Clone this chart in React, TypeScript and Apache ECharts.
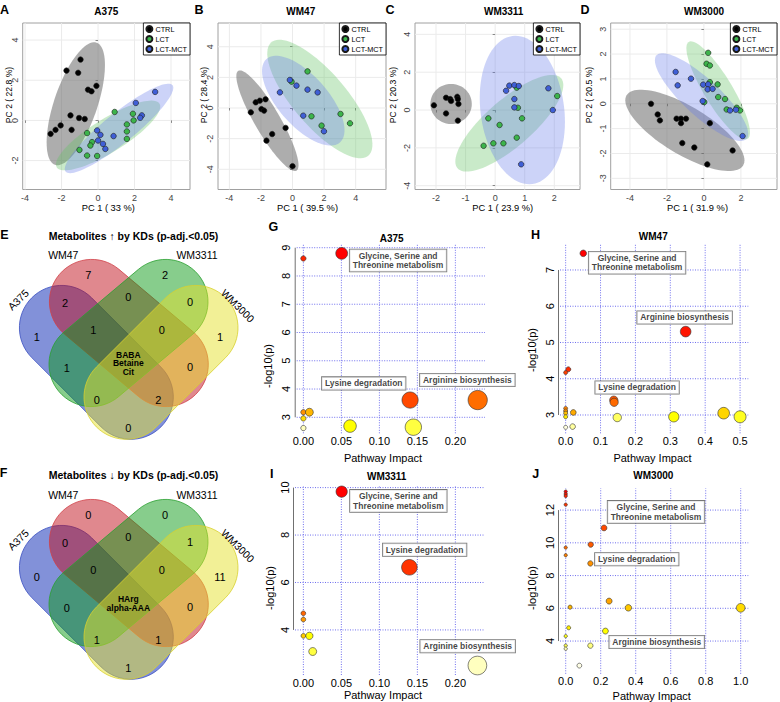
import React, { useEffect, useRef } from "react";
import * as echarts from "echarts";

const FONT = "'Liberation Sans', Arial, Helvetica, sans-serif";

// ---------------- PCA score plots (A–D) ----------------
const pcaTitles = ["A375", "WM47", "WM3311", "WM3000"];
const pcaGroups = ["CTRL", "LCT", "LCT-MCT"];
const pcaXNames = ["PC 1 ( 33 %)", "PC 1 ( 39.5 %)", "PC 1 ( 23.9 %)", "PC 1 ( 31.9 %)"];
const pcaYNames = ["PC 2 ( 22.8 %)", "PC 2 ( 28.4 %)", "PC 2 ( 20.3 %)", "PC 2 ( 20.5 %)"];

const a375Ctrl = [[-0.96, 3.03], [-1.73, 2.48], [-1.09, 2.37], [-0.55, 1.53], [-0.36, 1.45], [-0.09, 1.72], [-1.51, 0.25], [-1.04, 0.12], [-0.73, 0.07], [-2.6, -0.67], [-2.33, -0.47], [-2.05, -0.25], [-1.45, -0.47]];
const a375Lct = [[0.91, 0.42], [1.91, 0.33], [1.95, 0.0], [1.58, -0.2], [1.58, -0.55], [1.58, -0.92], [-0.6, -0.63], [-0.33, -1.08], [-0.42, -1.25], [-1.02, -1.47], [-0.6, -1.75], [-0.05, -1.77]];
const a375Mct = [[3.13, 1.42], [2.07, 0.87], [2.4, 0.25], [2.31, 0.13], [0.85, -0.78], [-0.05, -0.5], [0.13, -0.72], [0.0, -1.0], [0.27, -1.17], [0.4, -1.42]];

const wm47Ctrl = [[-1.71, 0.57], [-2.07, 0.48], [-2.33, 0.37], [-2.64, -0.28], [-1.97, -0.07], [-1.8, -0.17], [-1.29, -1.7], [-1.65, -2.13], [-0.44, -1.3], [0.0, -3.8]];
const wm47Lct = [[0.95, 2.39], [-0.06, 1.72], [1.2, -0.54], [1.84, -1.15], [3.04, -0.39], [3.64, -1.0]];
const wm47Mct = [[-0.17, 1.83], [0.25, 1.46], [-0.8, 1.02], [0.95, 1.2], [1.59, 1.02], [0.68, -0.5], [1.99, -1.52]];

const wm3311Ctrl = [[-2.07, 0.25], [-1.66, 0.65], [-1.52, 0.58], [-1.49, 0.48], [-1.28, 0.7], [-1.26, 0.58], [-1.24, 0.32], [-1.66, -0.18], [-1.26, -0.56]];
const wm3311Lct = [[0.73, 1.18], [2.1, 0.74], [0.77, 0.12], [-0.23, -0.44], [0.15, -0.79], [0.91, -0.44], [-0.39, -1.89], [-0.06, -1.76], [0.28, -1.76], [0.73, -1.46]];
const wm3311Mct = [[0.48, 1.29], [0.65, 1.32], [0.8, 1.27], [0.37, 1.02], [0.65, 0.58], [0.65, 0.14], [1.8, 1.15], [1.95, 0.0], [0.88, -2.87]];

const wm3000Ctrl = [[-2.86, 0.0], [-2.5, -0.43], [-2.38, -0.67], [-1.48, -0.6], [-1.24, -0.6], [-0.97, -0.6], [-1.24, -0.78], [0.32, -0.78], [-1.17, -1.58], [-0.52, -1.76], [1.55, -1.88], [0.18, -2.44]];
const wm3000Lct = [[0.23, 2.05], [0.14, 1.61], [0.32, 1.54], [0.32, 0.87], [0.74, 0.78], [0.77, 0.27], [1.14, 0.19], [1.23, -0.23], [1.77, -0.16], [1.95, -0.27], [0.02, 0.07]];
const wm3000Mct = [[-1.53, 1.28], [-1.42, 0.74], [-0.7, 1.01], [-0.04, 0.77], [0.23, 0.78], [0.2, 0.58], [0.47, 0.6], [-0.07, 0.11], [1.41, -0.27], [1.73, -0.24], [2.09, -1.3]];

// confidence ellipses: [centerX, centerY, axis1X, axis1Y, axis2X, axis2Y] in score units
const a375Ellipses = [[-1.22, 0.83, 1.14, 3.04, 1.12, -0.35], [0.55, -0.75, 2.82, 1.58, 0.47, -0.72], [1.15, -0.4, 2.93, 2.15, 0.51, -0.58]];
const wm47Ellipses = [[-1.59, -0.83, 1.84, -3.26, 0.7, 0.41], [1.73, 0.59, 3.07, -3.7, 1.29, 1.13], [0.68, 0.48, 2.33, -2.72, 1.18, 1.09]];
const wm3311Ellipses = [[-1.49, 0.32, 0.7, 0, 0, 1.06], [0.48, -0.7, 1.75, 2.38, 0.52, -0.93], [0.92, 0.0, -0.34, 3.91, 1.4, 0.3]];
const wm3000Ellipses = [[-1.03, -1.07, 3.15, -1.41, 0.67, 0.83], [0.77, 0.54, 1.59, -1.95, 0.65, 0.3], [-0.13, 0.27, 2.43, -1.68, 0.67, 0.54]];

const pcaScores = [
  [a375Ctrl, a375Lct, a375Mct],
  [wm47Ctrl, wm47Lct, wm47Mct],
  [wm3311Ctrl, wm3311Lct, wm3311Mct],
  [wm3000Ctrl, wm3000Lct, wm3000Mct],
];
const pcaEllipses = [a375Ellipses, wm47Ellipses, wm3311Ellipses, wm3000Ellipses];

const pcaXTicks = [[-4, -2, 0, 2, 4], [-4, -2, 0, 2, 4], [-2, -1, 0, 1, 2], [-4, -2, 0, 2]];
const pcaYTicks = [[-2, 0, 2, 4], [-4, -2, 0, 2, 4], [-4, -2, 0, 2, 4], [-3, -2, -1, 0, 1, 2, 3]];
const pcaXRange = [[-4.13, 5.04], [-4.72, 5.92], [-2.71, 2.87], [-5.04, 3.95]];
const pcaYRange = [[-3.44, 4.85], [-5.32, 5.55], [-4.2, 4.6], [-3.45, 3.25]];

// ---------------- Pathway impact plots (G–J) ----------------
const pathwayTitles = ["A375", "WM47", "WM3311", "WM3000"];
const pathwayNames = ["Glycine, Serine and\nThreonine metabolism", "Lysine degradation", "Arginine biosynthesis"];
// [pathway impact, -log10(p)]
const pathA375 = [[0, 8.62], [0.0504, 8.8], [0, 3.18], [0.0079, 3.18], [0, 2.96], [0, 2.62], [0.0614, 2.69], [0.1404, 3.61], [0.1447, 2.65], [0.2294, 3.61]];
const pathWM47 = [[0.0505, 7.46], [0.0076, 4.26], [0, 4.17], [0.344, 5.3], [0.138, 3.41], [0.139, 3.35], [0, 3.18], [0, 3.11], [0, 3.05], [0.022, 3.07], [0, 2.95], [0.148, 2.93], [0.31, 2.95], [0.453, 3.05], [0.5, 2.95], [0, 2.66], [0.02, 2.68]];
const pathWM3311 = [[0.0504, 9.83], [0.1395, 6.64], [0, 4.7], [0, 4.44], [0, 3.75], [0.0079, 3.75], [0.0123, 3.09], [0.229, 2.5]];
const pathWM3000 = [[0, 13.13], [0, 12.98], [0, 12.86], [0, 12.33], [0.219, 10.91], [0.143, 9.89], [0, 9.71], [0, 9.24], [0.141, 8.74], [0.248, 6.44], [0.025, 6.07], [0.358, 6.03], [1.0, 6.03], [0.017, 4.81], [0.227, 4.61], [0, 4.3], [0, 3.72], [0, 3.53], [0.141, 3.72], [0.078, 2.5]];
const pathData = [pathA375, pathWM47, pathWM3311, pathWM3000];
// label anchors [impact, -log10(p)] for Glycine..., Lysine..., Arginine...
const labA375 = [[0.1246, 8.55], [0.0794, 4.2], [0.2158, 4.32]];
const labWM47 = [[0.2048, 7.2], [0.2048, 3.76], [0.341, 5.69]];
const labWM3311 = [[0.125, 9.44], [0.1596, 7.38], [0.2162, 3.31]];
const labWM3000 = [[0.516, 11.89], [0.406, 9.0], [0.52, 3.94]];
const pathLabels = [labA375, labWM47, labWM3311, labWM3000];

const pathXTicks = [[0, 0.05, 0.1, 0.15, 0.2], [0, 0.1, 0.2, 0.3, 0.4, 0.5], [0, 0.05, 0.1, 0.15, 0.2], [0, 0.2, 0.4, 0.6, 0.8, 1.0]];
const pathYTicks = [[3, 4, 5, 6, 7, 8, 9], [3, 4, 5, 6, 7], [4, 6, 8, 10], [4, 6, 8, 10, 12]];
const pathXRange = [[-0.0088, 0.239], [-0.0162, 0.5236], [-0.011, 0.239], [-0.0326, 1.0434]];
const pathYRange = [[2.434, 9.156], [2.495, 7.736], [2.1, 10.11], [2.0, 13.33]];
const pathXDecimals = [2, 1, 2, 1];

// ---------------- Venn diagrams (E, F) ----------------
const vennSets = ["A375", "WM47", "WM3311", "WM3000"];
const vennUpTitle = "Metabolites \u2191 by KDs (p-adj.<0.05)";
const vennDownTitle = "Metabolites \u2193 by KDs (p-adj.<0.05)";
// regions: A, B, C, D, AB, BC, CD, ABC, BCD, AC, BD, ACD, ABD, AD (A=A375, B=WM47, C=WM3311, D=WM3000)
const vennUpCounts = [1, 7, 2, 1, 2, 0, 0, 1, 0, 1, 0, 0, 2, 0];
const vennUpShared = ["BABA", "Betaine", "Cit"];
const vennDownCounts = [0, 0, 0, 11, 0, 0, 1, 0, 0, 0, 0, 1, 1, 1];
const vennDownShared = ["HArg", "alpha-AAA"];

// ---------------- layout / styles ----------------
const pcaGrid = [[22.7, 23, 167.3, 166.5], [218, 23, 168, 166.5], [415, 23, 165, 166.5], [610.7, 23, 166.3, 166.5]];
const pathGrid = [[296.7, 243.3, 188.3, 190], [560, 243.3, 188.3, 190], [295, 485, 190, 190], [560, 488.3, 188.3, 185.5]];
const pathSize = [[5.3, 19.3], [4, 12], [4.7, 18.7], [3.3, 8.7]];
const groupColors = ["#000000", "#3cb44b", "#3f5fd6"];
const ellipseFills = ["rgba(105,105,105,0.55)", "rgba(100,195,100,0.35)", "rgba(100,120,235,0.33)"];
const vennFill = ["rgba(0,31,177,0.49)", "rgba(192,12,24,0.49)", "rgba(10,153,20,0.49)", "rgba(228,224,41,0.49)"];
const vennStroke = ["#3a4fc0", "#d04048", "#2aa030", "#d8d030"];
// stadium shapes: two end-cap centres (px) for A375, WM47, WM3311, WM3000
const vennShapes = [
  [[61.7, 327.7], [131, 397]],
  [[91.7, 301.7], [166, 364.3]],
  [[165.7, 301.7], [91.3, 364.3]],
  [[195.7, 327.7], [126.3, 397]],
];
const vennR = 42.3;
const vennRegionPos = [[36.7, 336.7], [88.3, 275], [165, 275], [220, 336.7], [65, 303.3], [128.3, 296.7], [190, 301.7], [93.3, 330], [161.7, 330], [66.7, 368.3], [190, 366.7], [96.7, 400], [158.3, 400], [128.3, 428.3]];
const vennCenterPos = [128.3, 363.3];

function hsvHex(h: number, s: number, v: number) {
  const i = Math.floor(h * 6 + 1e-9);
  const f = Math.max(0, h * 6 - i);
  const p = v * (1 - s), q = v * (1 - f * s), t = v * (1 - (1 - f) * s);
  let r = 0, g = 0, b = 0;
  switch (i % 6) {
    case 0: r = v; g = t; b = p; break;
    case 1: r = q; g = v; b = p; break;
    case 2: r = p; g = v; b = t; break;
    case 3: r = p; g = q; b = v; break;
    case 4: r = t; g = p; b = v; break;
    default: r = v; g = p; b = q;
  }
  const hx = (x: number) => Math.round(Math.max(0, Math.min(1, x)) * 255).toString(16).padStart(2, "0");
  return "#" + hx(r) + hx(g) + hx(b);
}
// R's heat.colors(n)
function heatColors(n: number) {
  const j = Math.floor(n / 4);
  const i = n - j;
  const out: string[] = [];
  for (let k = 0; k < i; k++) out.push(hsvHex(i > 1 ? (k / (i - 1)) / 6 : 0, 1, 1));
  for (let k = 0; k < j; k++) {
    const s0 = 1 - 1 / (2 * j), s1 = 1 / (2 * j);
    out.push(hsvHex(1 / 6, j > 1 ? s0 + (s1 - s0) * k / (j - 1) : s0, 1));
  }
  return out;
}

function stadium(c1: number[], c2: number[], r: number, dy: number) {
  const ang = Math.atan2(c2[1] - c1[1], c2[0] - c1[0]);
  const pts: number[][] = [];
  const n = 30;
  for (let k = 0; k <= n; k++) {
    const t = ang - Math.PI / 2 + (Math.PI * k) / n;
    pts.push([c2[0] + r * Math.cos(t), c2[1] + dy + r * Math.sin(t)]);
  }
  for (let k = 0; k <= n; k++) {
    const t = ang + Math.PI / 2 + (Math.PI * k) / n;
    pts.push([c1[0] + r * Math.cos(t), c1[1] + dy + r * Math.sin(t)]);
  }
  return pts;
}

function txt(text: string, x: number, y: number, size: number, o: any = {}) {
  return {
    type: "text", x, y, rotation: o.rot || 0, silent: true, z: 10,
    style: {
      text, fontSize: size, fontWeight: o.bold ? "bold" : "normal", fontFamily: FONT,
      fill: o.color || "#000", align: "center", verticalAlign: "middle",
      textAlign: "center", textVerticalAlign: "middle", lineHeight: o.lh,
    },
  };
}

function valueAxis(gi: number, range: number[], ticks: number[], o: any) {
  return {
    type: "value", gridIndex: gi, min: range[0], max: range[1],
    axisLine: { show: false },
    axisTick: { show: !!o.tick, customValues: ticks, length: 2.5, lineStyle: { color: "#888", width: 1 } },
    axisLabel: {
      customValues: ticks, formatter: o.fmt, fontSize: o.fontSize, color: o.color, margin: o.margin,
      rotate: o.rotate || 0, fontFamily: FONT,
    },
    splitLine: { show: false },
  };
}

// grid lines drawn at the tick values through the axis scales
function gridLineSeries(gi: number, xr: number[], yr: number[], xt: number[], yt: number[], style: any, axisLine: boolean) {
  return {
    type: "custom", xAxisIndex: gi, yAxisIndex: gi, silent: true, clip: false, z: 0,
    data: [[xr[0], yr[0]]],
    renderItem: (_p: any, api: any) => {
      const children: any[] = [];
      xt.forEach((v) => {
        const a = api.coord([v, yr[0]]), b = api.coord([v, yr[1]]);
        children.push({ type: "line", shape: { x1: a[0], y1: a[1], x2: b[0], y2: b[1] }, style });
      });
      yt.forEach((v) => {
        const a = api.coord([xr[0], v]), b = api.coord([xr[1], v]);
        children.push({ type: "line", shape: { x1: a[0], y1: a[1], x2: b[0], y2: b[1] }, style });
      });
      if (axisLine) {
        const a = api.coord([xr[0], yt[0]]), b = api.coord([xr[0], yt[yt.length - 1]]);
        children.push({ type: "line", shape: { x1: a[0] - 1.5, y1: a[1], x2: b[0] - 1.5, y2: b[1] }, style: { stroke: "#707070", lineWidth: 1 } });
      }
      return { type: "group", children };
    },
  };
}

function buildOption() {
  const grid: any[] = [];
  const xAxis: any[] = [];
  const yAxis: any[] = [];
  const series: any[] = [];
  const legend: any[] = [];
  const graphic: any[] = [];

  // PCA panels
  pcaGrid.forEach((g, i) => {
    grid.push({ left: g[0], top: g[1], width: g[2], height: g[3], show: true, borderColor: "#a0a0a0", borderWidth: 1, backgroundColor: "#fff", containLabel: false, outerBoundsMode: "none" });
    xAxis.push(valueAxis(i, pcaXRange[i], pcaXTicks[i], { tick: true, fontSize: 9, color: "#444", margin: 3.5, fmt: (v: number) => String(v) }));
    yAxis.push(valueAxis(i, pcaYRange[i], pcaYTicks[i], { tick: true, fontSize: 9, color: "#444", margin: 3.5, rotate: 90, fmt: (v: number) => String(v) }));
    series.push(gridLineSeries(i, pcaXRange[i], pcaYRange[i], pcaXTicks[i], pcaYTicks[i], { stroke: "#ebebeb", lineWidth: 1 }, false));
    series.push({
      type: "custom", xAxisIndex: i, yAxisIndex: i, silent: true, z: 1, clip: true,
      data: pcaEllipses[i],
      renderItem: (params: any, api: any) => {
        const c = [0, 1, 2, 3, 4, 5].map((k) => api.value(k));
        const pts: number[][] = [];
        for (let k = 0; k < 90; k++) {
          const t = (k / 90) * Math.PI * 2;
          pts.push(api.coord([c[0] + Math.cos(t) * c[2] + Math.sin(t) * c[4], c[1] + Math.cos(t) * c[3] + Math.sin(t) * c[5]]));
        }
        return { type: "polygon", shape: { points: pts }, style: { fill: ellipseFills[params.dataIndex], stroke: "none" } };
      },
    });
    pcaGroups.forEach((name, k) => {
      series.push({
        type: "scatter", name, xAxisIndex: i, yAxisIndex: i, z: 3, symbolSize: 5.5,
        data: pcaScores[i][k],
        itemStyle: { color: groupColors[k], borderColor: "#1a1a1a", borderWidth: 0.6, opacity: 1 },
        emphasis: { disabled: true },
      });
    });
    legend.push({
      data: pcaGroups, orient: "vertical", right: 780 - (g[0] + g[2]), top: g[1],
      itemWidth: 6, itemHeight: 6, itemGap: 2, padding: [2, 3, 2, 2], icon: "circle",
      borderColor: "#000", borderWidth: 0.8, backgroundColor: "#fff", selectedMode: false,
      textStyle: { fontSize: 7.3, fontFamily: FONT, color: "#000", padding: [0, 0, 0, -2] },
    });
  });

  // Pathway panels
  pathGrid.forEach((g, i) => {
    const gi = 4 + i;
    grid.push({ left: g[0], top: g[1], width: g[2], height: g[3], show: false, containLabel: false, outerBoundsMode: "none" });
    const dec = pathXDecimals[i];
    xAxis.push(valueAxis(gi, pathXRange[i], pathXTicks[i], { tick: false, fontSize: 11, color: "#000", margin: 2, fmt: (v: number) => v.toFixed(dec) }));
    yAxis.push(valueAxis(gi, pathYRange[i], pathYTicks[i], { tick: false, fontSize: 11, color: "#000", margin: 5, rotate: 90, fmt: (v: number) => String(v) }));
    series.push(gridLineSeries(gi, pathXRange[i], pathYRange[i], pathXTicks[i], pathYTicks[i], { stroke: "#6f6fee", lineWidth: 1, lineDash: [1, 1.5] }, true));
    const pts = pathData[i];
    const order = pts.map((_, k) => k).sort((a, b) => pts[b][1] - pts[a][1]);
    const cols = heatColors(pts.length);
    const xmax = Math.max(...pts.map((p) => p[0]));
    const [dmin, dmax] = pathSize[i];
    series.push({
      type: "scatter", xAxisIndex: gi, yAxisIndex: gi, z: 3, clip: false,
      data: order.map((k, rank) => ({
        value: pts[k],
        symbolSize: dmin + (dmax - dmin) * Math.sqrt(pts[k][0] / xmax),
        itemStyle: { color: cols[rank] },
      })),
      itemStyle: { borderColor: "#303030", borderWidth: 0.6, opacity: 1 },
      emphasis: { disabled: true },
    });
    series.push({
      type: "scatter", xAxisIndex: gi, yAxisIndex: gi, z: 5, clip: false, silent: true, symbolSize: 1,
      itemStyle: { color: "rgba(0,0,0,0)" },
      data: pathLabels[i].map((a, k) => ({ value: a, name: pathwayNames[k] })),
      label: {
        show: true, position: "inside", formatter: (p: any) => p.name, fontSize: 8.5, fontWeight: "bold",
        fontFamily: FONT, color: "#111", backgroundColor: "#fff", borderColor: "#555", borderWidth: 0.8,
        padding: [2, 3, 1, 3], lineHeight: 9.5, align: "center",
      },
      emphasis: { disabled: true },
    });
  });

  // Venn diagrams
  const venn = (dy: number, title: string, titleY: number, counts: number[], shared: string[], lh: number) => {
    vennShapes.forEach((s, k) => {
      graphic.push({ type: "polygon", silent: true, z: 1, shape: { points: stadium(s[0], s[1], vennR, dy) }, style: { fill: vennFill[k], stroke: vennStroke[k], lineWidth: 0.8 } });
    });
    counts.forEach((c, k) => graphic.push(txt(String(c), vennRegionPos[k][0], vennRegionPos[k][1] + dy, 11)));
    graphic.push(txt(shared.join("\n"), vennCenterPos[0], vennCenterPos[1] + dy, 8.5, { bold: true, lh }));
    graphic.push(txt(title, 133.5, titleY, 10.5, { bold: true }));
    graphic.push(txt(vennSets[0], 18.5, 300 + dy, 10.5, { rot: 0.78 }));
    graphic.push(txt(vennSets[1], 63.3, 255 + dy, 10.5));
    graphic.push(txt(vennSets[2], 197, 255 + dy, 10.5));
    graphic.push(txt(vennSets[3], 237.5, 306 + dy, 10.5, { rot: -0.78 }));
  };
  venn(0, vennUpTitle, 236, vennUpCounts, vennUpShared, 8.5);
  venn(240, vennDownTitle, 475, vennDownCounts, vennDownShared, 9);

  // titles, axis names, panel letters
  const pcaTitleX = [106.3, 300.8, 503.7, 704];
  const pcaXNameX = [108.3, 307.5, 502.7, 697.5];
  const pcaYNameX = [9.3, 204, 393, 589];
  pcaTitles.forEach((t, i) => {
    graphic.push(txt(t, pcaTitleX[i], 11, 10, { bold: true }));
    graphic.push(txt(pcaXNames[i], pcaXNameX[i], 207.5, 9.3));
    graphic.push(txt(pcaYNames[i], pcaYNameX[i], 95, 8.6, { rot: Math.PI / 2 }));
  });
  const pathTitlePos = [[391.7, 238.3], [653.3, 236.7], [386.7, 476.7], [653.3, 475.7]];
  const pathXNamePos = [[383, 458.3], [652.5, 458.3], [383, 695], [651.7, 695.5]];
  const pathYNamePos = [[268.3, 366], [531.7, 350], [270, 588], [531.7, 588]];
  pathwayTitles.forEach((t, i) => {
    graphic.push(txt(t, pathTitlePos[i][0], pathTitlePos[i][1], 10, { bold: true }));
    graphic.push(txt("Pathway Impact", pathXNamePos[i][0], pathXNamePos[i][1], 11));
    graphic.push(txt("-log10(p)", pathYNamePos[i][0], pathYNamePos[i][1], 11, { rot: Math.PI / 2 }));
  });
  const letters: [string, number, number][] = [["A", 4.5, 9.5], ["B", 199, 9.5], ["C", 390, 9.5], ["D", 585, 9.5], ["E", 4.5, 235], ["F", 3.5, 473], ["G", 273.3, 226.7], ["H", 535.5, 235], ["I", 271.7, 474.3], ["J", 535.7, 474.3]];
  letters.forEach(([l, x, y]) => graphic.push(txt(l, x, y, 12.5, { bold: true })));

  return {
    animation: false,
    backgroundColor: "#fff",
    textStyle: { fontFamily: FONT },
    grid, xAxis, yAxis, series, legend, graphic,
  };
}

export default function App() {
  const ref = useRef<HTMLDivElement>(null);
  useEffect(() => {
    if (!ref.current) return;
    const chart = echarts.init(ref.current, null, { renderer: "svg" });
    chart.setOption(buildOption() as any);
    return () => chart.dispose();
  }, []);
  return <div ref={ref} style={{ position: "absolute", left: 0, top: 0, width: 780, height: 702, background: "#fff" }} />;
}
